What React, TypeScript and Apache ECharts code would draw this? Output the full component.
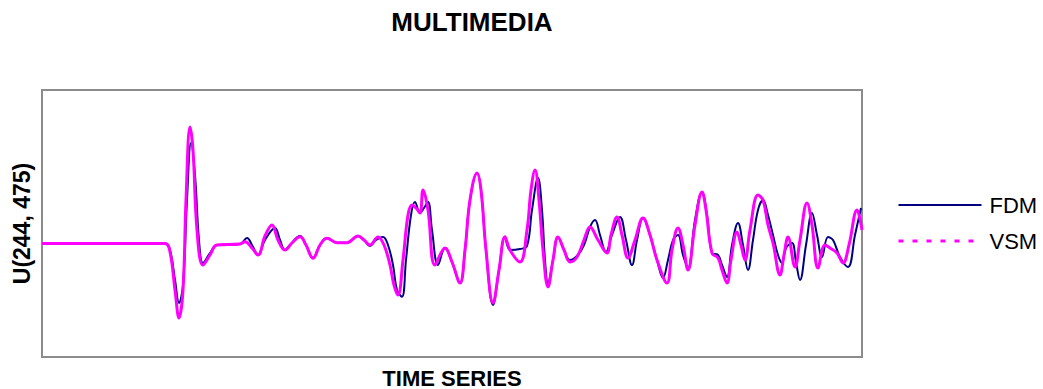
import React, { useEffect, useRef } from "react";
import * as echarts from "echarts";

const titleText = "MULTIMEDIA";
const xName = "TIME SERIES";
const yName = "U(244, 475)";
const seriesNames = ["FDM", "VSM"];

const fdm: [number, number][] = [
  [0, 0], [123, 0], [128, -0.065], [133, -0.365], [137, -0.595], [141, -0.415], [145, 0.435], [149, 1.005],
  [153, 0.685], [157, 0.035], [161, -0.195], [168, -0.095], [175, -0.015], [198, -0.005], [205, 0.055],
  [210, -0.015], [216, -0.115], [223, 0.035], [233, 0.155], [238, 0.035], [243, -0.065], [248, -0.015],
  [258, 0.075], [264, -0.015], [271, -0.145], [278, -0.015], [285, 0.055], [295, 0.008], [305, 0.008],
  [316, 0.075], [322, 0.035], [328, -0.025], [334, 0.035], [341, 0.065], [346, -0.015], [351, -0.215],
  [355, -0.465], [360, -0.532], [364, -0.165], [369, 0.285], [373, 0.415], [378, 0.305], [382, 0.355],
  [386, 0.415], [390, 0.135], [396, -0.215], [403, -0.045], [410, -0.185], [418, -0.395], [423, -0.065],
  [428, 0.435], [435, 0.705], [439, 0.535], [444, -0.065], [451, -0.615], [457, -0.265], [463, 0.065],
  [468, -0.065], [478, -0.055], [485, -0.025], [490, 0.335], [496, 0.655], [500, 0.335], [503, -0.165],
  [506, -0.395], [511, -0.165], [516, 0.065], [522, -0.065], [528, -0.165], [535, -0.125], [542, -0.015],
  [548, 0.165], [553, 0.235], [558, 0.085], [564, -0.085], [570, 0.085], [578, 0.265], [584, 0.035],
  [590, -0.215], [595, 0.035], [601, 0.255], [608, 0.085], [615, -0.165], [621, -0.345], [626, -0.165],
  [631, 0.035], [636, 0.085], [641, -0.115], [646, -0.245], [653, 0.235], [660, 0.515], [665, 0.285],
  [670, -0.095], [676, -0.115], [680, -0.215], [685, -0.335], [690, -0.015], [696, 0.205], [701, -0.015],
  [706, -0.265], [711, 0.035], [716, 0.335], [721, 0.435], [726, 0.285], [731, 0.085], [736, -0.115],
  [740, -0.195], [744, -0.045], [750, 0.005], [754, -0.185], [758, -0.365], [764, -0.015], [770, 0.305],
  [775, 0.085], [780, -0.135], [786, 0.065], [791, 0.035], [798, -0.135], [806, -0.235], [813, 0.085],
  [819, 0.355],
];

const vsm: [number, number][] = [
  [0, 0], [123, 0], [128, -0.085], [133, -0.465], [137, -0.745], [141, -0.465], [144, 0.435], [148, 1.165],
  [151, 0.935], [155, 0.135], [161, -0.215], [168, -0.115], [175, -0.015], [198, -0.005], [203, 0.018],
  [210, -0.045], [216, -0.115], [223, 0.075], [230, 0.185], [236, 0.035], [243, -0.065], [250, 0.005],
  [258, 0.068], [264, -0.015], [271, -0.148], [278, -0.015], [285, 0.052], [295, 0.008], [305, 0.008],
  [316, 0.075], [322, 0.035], [328, -0.015], [336, 0.065], [342, -0.015], [348, -0.215], [352, -0.415],
  [356, -0.515], [361, -0.165], [366, 0.285], [370, 0.385], [374, 0.355], [378, 0.305], [381, 0.535],
  [386, 0.335], [393, -0.215], [403, -0.045], [410, -0.185], [418, -0.395], [423, -0.065], [428, 0.435],
  [435, 0.705], [439, 0.535], [444, -0.065], [451, -0.595], [457, -0.265], [463, 0.068], [468, -0.065],
  [478, -0.185], [485, 0.135], [489, 0.535], [493, 0.735], [497, 0.435], [501, -0.065], [506, -0.435],
  [511, -0.165], [516, 0.065], [522, -0.065], [528, -0.185], [535, -0.135], [542, 0.035], [548, 0.165],
  [556, 0.035], [565, -0.095], [569, 0.085], [575, 0.265], [580, 0.085], [586, -0.145], [593, 0.035],
  [601, 0.255], [608, 0.085], [615, -0.165], [625, -0.395], [630, -0.065], [636, 0.155], [641, -0.015],
  [646, -0.265], [653, 0.185], [660, 0.515], [664, 0.335], [670, -0.095], [676, -0.145], [680, -0.265],
  [685, -0.395], [689, -0.165], [695, 0.115], [699, -0.015], [703, -0.165], [708, 0.135], [716, 0.485],
  [721, 0.435], [726, 0.185], [731, 0.005], [738, -0.315], [742, -0.115], [746, 0.065], [753, -0.235],
  [758, 0.035], [765, 0.405], [770, 0.185], [776, -0.245], [783, -0.015], [788, -0.045], [795, -0.095],
  [801, -0.195], [807, -0.015], [815, 0.335], [820, 0.135],
];

const FONT = "'Liberation Sans', Arial, sans-serif";

export default function App() {
  const ref = useRef<HTMLDivElement>(null);
  useEffect(() => {
    if (!ref.current) return;
    const chart = echarts.init(ref.current, null, { renderer: "svg" });
    chart.setOption({
      animation: false,
      backgroundColor: "#ffffff",
      title: {
        text: titleText,
        left: 467,
        textAlign: "center",
        top: 4,
        textStyle: { fontFamily: FONT, fontSize: 26, fontWeight: "bold", color: "#000" },
      },
      legend: {
        orient: "vertical",
        left: 897,
        top: 194,
        padding: 0,
        itemWidth: 83,
        itemHeight: 22,
        itemGap: 14,
        itemStyle: { opacity: 0 },
        textStyle: { fontFamily: FONT, fontSize: 22, color: "#000", padding: [0, 0, 0, 3] },
        data: [
          { name: seriesNames[0], itemStyle: { opacity: 0 }, lineStyle: { color: "#000080", width: 2, type: "solid" } },
          { name: seriesNames[1], itemStyle: { opacity: 0 }, lineStyle: { color: "#ff00ff", width: 3, type: [5, 9] } },
        ],
      },
      grid: {
        left: 42,
        top: 90,
        width: 820,
        height: 267,
        show: true,
        borderColor: "#8c8c8c",
        borderWidth: 2,
        backgroundColor: "#ffffff",
        containLabel: false,
        outerBoundsMode: "none",
      },
      xAxis: {
        type: "value",
        min: 0,
        max: 820,
        name: xName,
        nameLocation: "middle",
        nameGap: 10,
        nameTextStyle: { fontFamily: FONT, fontSize: 22, fontWeight: "bold", color: "#000" },
        axisLine: { show: false },
        axisTick: { show: false },
        axisLabel: { show: false },
        splitLine: { show: false },
      },
      yAxis: {
        type: "value",
        min: -1.135,
        max: 1.535,
        name: yName,
        nameLocation: "middle",
        nameGap: 9,
        nameTextStyle: { fontFamily: FONT, fontSize: 23, fontWeight: "bold", color: "#000" },
        axisLine: { show: false },
        axisTick: { show: false },
        axisLabel: { show: false },
        splitLine: { show: false },
      },
      series: [
        {
          name: seriesNames[0],
          type: "line",
          data: fdm,
          smooth: 0.4,
          symbol: "none",
          lineStyle: { color: "#000080", width: 2 },
          itemStyle: { color: "#000080" },
          z: 2,
        },
        {
          name: seriesNames[1],
          type: "line",
          data: vsm,
          smooth: 0.4,
          symbol: "none",
          lineStyle: { color: "#ff00ff", width: 3 },
          itemStyle: { color: "#ff00ff" },
          z: 3,
        },
      ],
    });
    return () => chart.dispose();
  }, []);
  return (
    <div
      ref={ref}
      style={{ position: "fixed", left: 0, top: 0, width: 1043, height: 389, background: "#fff" }}
    />
  );
}
